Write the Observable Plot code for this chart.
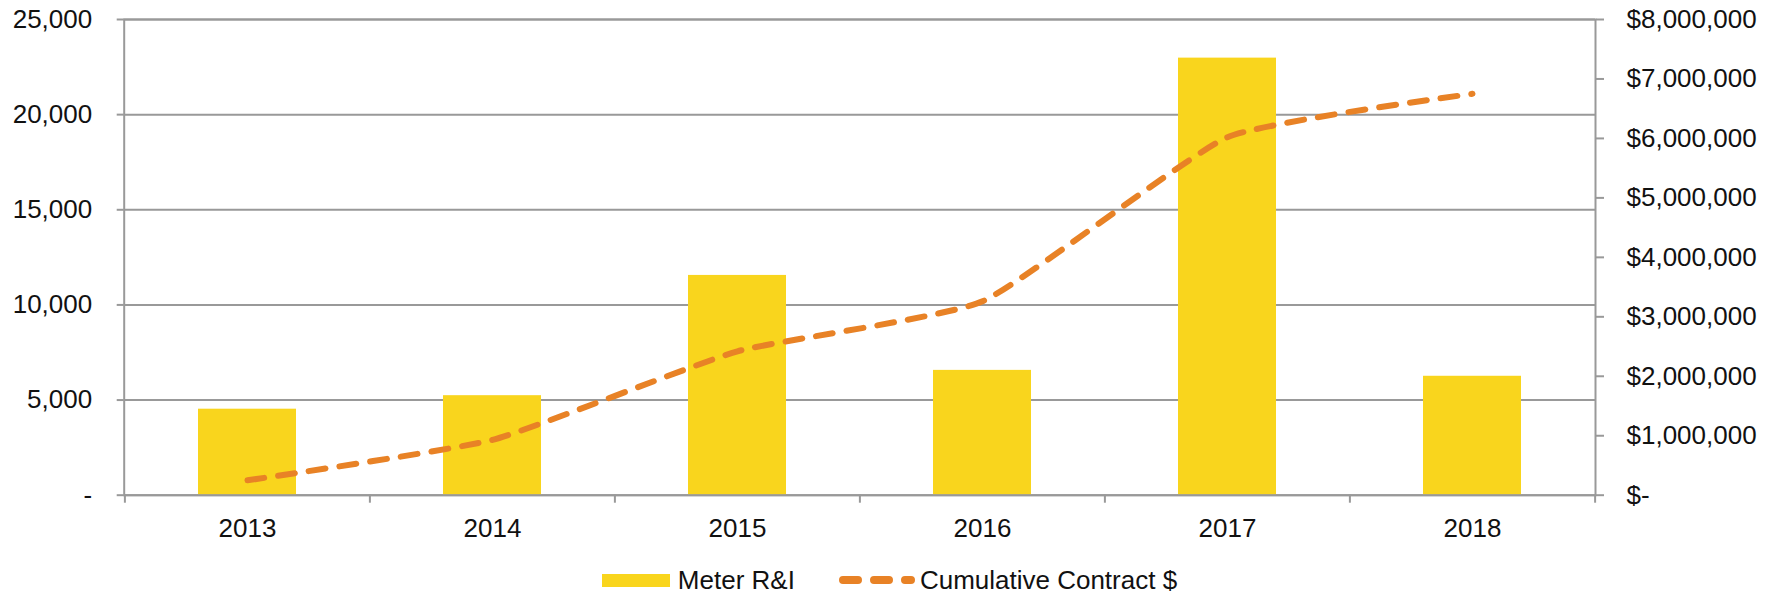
<!DOCTYPE html>
<html>
<head>
<meta charset="utf-8">
<script src="https://cdn.jsdelivr.net/npm/d3@7"></script>
<script src="https://cdn.jsdelivr.net/npm/@observablehq/plot@0.6"></script>
<style>
  html, body { margin: 0; padding: 0; background: #fff; }
  #chart svg { display: block; }
  #legend {
    display: flex; justify-content: center; align-items: center;
    height: 34px; width: 1779px;
    font-family: "Liberation Sans", Arial, sans-serif; font-size: 26px; color: #111;
  }
  .sw { width: 68px; height: 13px; background: #F9D51D; margin-right: 8px; }
  .ls { margin-left: 44px; margin-right: 5px; display: block; }
</style>
</head>
<body>
<div id="chart"></div>
<div id="legend">
  <span class="sw"></span><span>Meter R&amp;I</span>
  <svg class="ls" width="76" height="12"><line x1="4" x2="72" y1="6" y2="6" stroke="#E88226" stroke-width="8" stroke-linecap="round" stroke-dasharray="15 16"/></svg>
  <span>Cumulative Contract $</span>
</div>
<script>
// ---- data ----
const years = ["2013", "2014", "2015", "2016", "2017", "2018"];
const meterRI = [4520, 5230, 11550, 6560, 22970, 6250];
const cumulativeContract = [250000, 930000, 2420000, 3260000, 6020000, 6750000];
const leftTicks = [0, 5000, 10000, 15000, 20000, 25000];
const rightTicks = [0, 1000000, 2000000, 3000000, 4000000, 5000000, 6000000, 7000000, 8000000];

// ---- layout ----
const W = 1779, H = 563;
const mL = 123.7, mR = 184, mT = 19, mB = 68.3;
const step = (W - mL - mR) / years.length;
const k = 25000 / 8000000; // right-axis to left-axis factor
const gray = "#999999";
const yellow = "#F9D51D";
const orange = "#E88226";

const bars = years.map((y, i) => ({year: y, value: meterRI[i]}));
const cum = years.map((y, i) => ({year: y, value: cumulativeContract[i] * k}));

const fmtL = d => d === 0 ? "-" : d3.format(",")(d);
const fmtR = d => d === 0 ? "$-" : "$" + d3.format(",")(Math.round(d / k));

const chart = Plot.plot({
  width: W, height: H,
  marginLeft: mL, marginRight: mR, marginTop: mT, marginBottom: mB,
  style: {fontFamily: "Liberation Sans, Arial, sans-serif", fontSize: "26px", color: "#111", background: "white"},
  x: {type: "band", domain: years, paddingInner: 0.6, paddingOuter: 0.3, align: 0.5},
  y: {domain: [0, 25000]},
  marks: [
    Plot.gridY(leftTicks, {stroke: gray, strokeOpacity: 1, strokeWidth: 2}),
    Plot.barY(bars, {x: "year", y: "value", fill: yellow}),
    Plot.ruleX(years, {x: d => d, y1: 0, y2: 0, insetBottom: -8, dx: -step / 2, stroke: gray, strokeWidth: 2}),
    Plot.ruleX([years[years.length - 1]], {x: d => d, y1: 0, y2: 0, insetBottom: -8, dx: step / 2, stroke: gray, strokeWidth: 2}),
    Plot.frame({stroke: gray, strokeWidth: 2}),
    Plot.axisY(leftTicks, {anchor: "left", tickSize: 7, tickPadding: 25, tickFormat: fmtL, stroke: gray, strokeWidth: 2, label: null}),
    Plot.axisY(rightTicks.map(v => v * k), {anchor: "right", tickSize: 8, tickPadding: 23, tickFormat: fmtR, stroke: gray, strokeWidth: 2, label: null}),
    Plot.axisX(years, {tickSize: 0, tickPadding: 23, label: null}),
    Plot.line(cum, {x: "year", y: "value", stroke: orange, strokeWidth: 6, strokeDasharray: "17,14", strokeLinecap: "round", curve: "cardinal", tension: 0.55})
  ]
});
document.getElementById("chart").appendChild(chart);
</script>
</body>
</html>
